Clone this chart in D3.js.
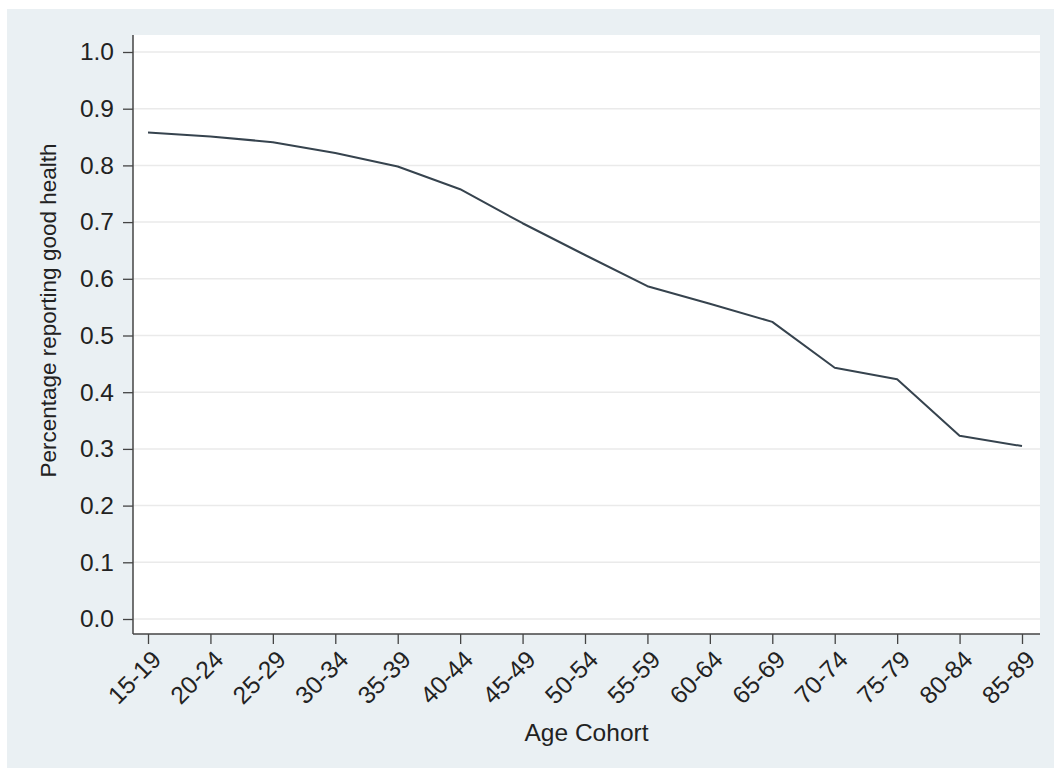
<!DOCTYPE html>
<html>
<head>
<meta charset="utf-8">
<script src="https://cdn.jsdelivr.net/npm/d3@7"></script>
<style>
  html, body { margin: 0; padding: 0; background: #ffffff; }
  svg { display: block; font-family: "Liberation Sans", Arial, sans-serif; }
</style>
</head>
<body>
<svg id="chart" width="1054" height="769"></svg>
<script>
const categories = ["15-19","20-24","25-29","30-34","35-39","40-44","45-49","50-54","55-59","60-64","65-69","70-74","75-79","80-84","85-89"];
const values = [0.858,0.851,0.841,0.822,0.798,0.758,0.698,0.642,0.587,0.556,0.524,0.443,0.423,0.323,0.305];
const yTicks = [0.0,0.1,0.2,0.3,0.4,0.5,0.6,0.7,0.8,0.9,1.0];
const xTitle = "Age Cohort";
const yTitle = "Percentage reporting good health";

const svg = d3.select("#chart");
// outer graph region
svg.append("rect").attr("x", 7).attr("y", 9).attr("width", 1047).attr("height", 759).attr("fill", "#eaf0f3");

const plot = {left: 133, right: 1040, top: 35, bottom: 634};
svg.append("rect").attr("x", plot.left).attr("y", plot.top)
  .attr("width", plot.right - plot.left).attr("height", plot.bottom - plot.top).attr("fill", "#ffffff");

const x = d3.scalePoint().domain(categories).range([148, 1022]);
const y = d3.scaleLinear().domain([0, 1]).range([619, 52]);

// gridlines
svg.append("g").selectAll("line").data(yTicks).join("line")
  .attr("x1", plot.left).attr("x2", plot.right)
  .attr("y1", d => y(d)).attr("y2", d => y(d))
  .attr("stroke", "#eaeaea").attr("stroke-width", 1.5);

// y axis
const yAxis = svg.append("g").attr("transform", `translate(${plot.left},0)`)
  .call(d3.axisLeft(y).tickValues(yTicks).tickFormat(d3.format(".1f")).tickSize(10).tickPadding(9));
yAxis.select(".domain").remove();
yAxis.selectAll(".tick line").attr("stroke", "#444").attr("stroke-width", 1.3);
yAxis.selectAll(".tick text").attr("fill", "#222").attr("font-size", 24.5)
  .attr("font-family", "'Liberation Sans', Arial, sans-serif");

// x axis
const xAxis = svg.append("g").attr("transform", `translate(0,${plot.bottom})`)
  .call(d3.axisBottom(x).tickSize(10).tickPadding(4));
xAxis.select(".domain").remove();
xAxis.selectAll(".tick line").attr("stroke", "#444").attr("stroke-width", 1.3);
xAxis.selectAll(".tick text").attr("fill", "#222").attr("font-size", 24.5)
  .attr("font-family", "'Liberation Sans', Arial, sans-serif")
  .attr("text-anchor", "end")
  .attr("transform", "translate(8,21) rotate(-45)")
  .attr("dy", "0.35em").attr("y", 0).attr("x", 0);

// axis lines
svg.append("line").attr("x1", plot.left).attr("x2", plot.left).attr("y1", plot.top).attr("y2", plot.bottom)
  .attr("stroke", "#444").attr("stroke-width", 1.5);
svg.append("line").attr("x1", plot.left).attr("x2", plot.right).attr("y1", plot.bottom).attr("y2", plot.bottom)
  .attr("stroke", "#444").attr("stroke-width", 1.5);

// line
const line = d3.line().x((d, i) => x(categories[i])).y(d => y(d));
svg.append("path").datum(values).attr("d", line)
  .attr("fill", "none").attr("stroke", "#36434e").attr("stroke-width", 2)
  .attr("stroke-linejoin", "round");

// titles
svg.append("text").attr("x", (plot.left + plot.right) / 2).attr("y", 741)
  .attr("text-anchor", "middle").attr("font-size", 24.5).attr("fill", "#222").text(xTitle);
svg.append("text").attr("transform", `translate(56,${(plot.top + plot.bottom) / 2 - 24}) rotate(-90)`)
  .attr("text-anchor", "middle").attr("font-size", 22.5).attr("fill", "#222").text(yTitle);
</script>
</body>
</html>
